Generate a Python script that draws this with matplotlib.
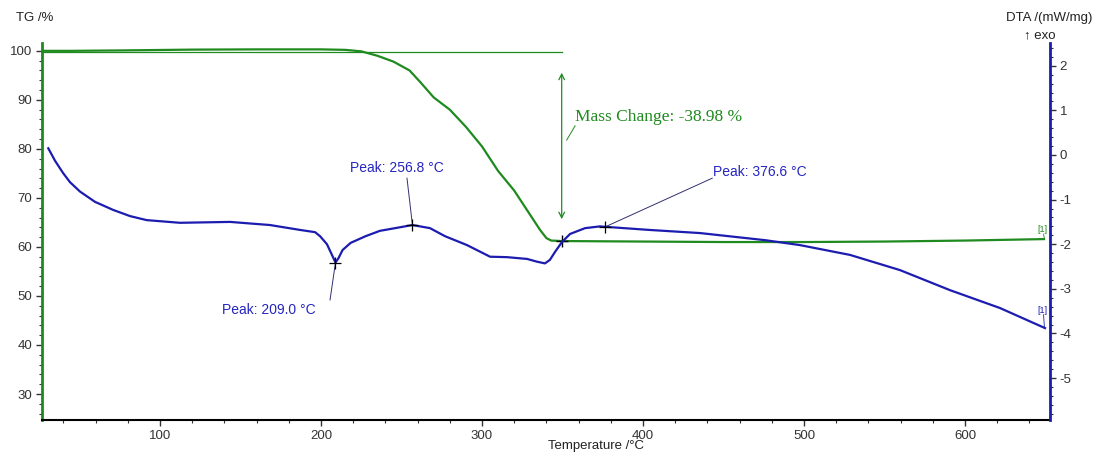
import numpy as np
import matplotlib.pyplot as plt
from matplotlib.ticker import MultipleLocator

plt.rcParams['font.family'] = ['Liberation Sans', 'DejaVu Sans']
plt.rcParams['axes.unicode_minus'] = False

# TG curve (left axis, %)
tg_temp = [27, 45, 80, 120, 160, 200, 215, 225, 235, 245, 255, 262, 270, 280, 290, 300,
           310, 320, 330, 336, 340, 343, 350, 400, 450, 500, 550, 600, 649]
tg_mass = [100.0, 100.0, 100.1, 100.25, 100.3, 100.3, 100.2, 99.9, 99.0, 97.8, 96.0, 93.5,
           90.5, 88.0, 84.5, 80.5, 75.5, 71.5, 66.5, 63.5, 61.8, 61.3, 61.2, 61.1,
           61.0, 61.0, 61.1, 61.3, 61.6]

# DTA curve (right axis, mW/mg)
dta_temp = [30.6, 34.8, 39.9, 44.1, 50.3, 59.6, 70.8, 81.4, 91.7, 112.4, 143.5, 168.3,
            187.0, 196.3, 199.4, 203.7, 206.8, 209.0, 210.9, 213.4, 218.4, 227.7, 236.6,
            246.0, 256.8, 267.7, 277.0, 290.7, 305.0, 315.5, 328.0, 334.0, 339.1, 342.2,
            345.4, 349.7, 354.7, 364.0, 373.3, 376.6, 404.0, 435.4, 476.0, 497.5, 528.6,
            559.6, 590.7, 621.7, 649.7]
dta_val = [0.15, -0.13, -0.41, -0.61, -0.82, -1.05, -1.23, -1.37, -1.46, -1.52, -1.50, -1.57,
           -1.68, -1.73, -1.82, -2.00, -2.24, -2.41, -2.31, -2.13, -1.97, -1.82, -1.70,
           -1.64, -1.57, -1.64, -1.82, -2.02, -2.28, -2.29, -2.33, -2.39, -2.43, -2.35,
           -2.17, -1.95, -1.77, -1.64, -1.60, -1.61, -1.68, -1.75, -1.91, -2.02, -2.24,
           -2.58, -3.03, -3.43, -3.88]

peak_temps = [209.0, 256.8, 376.6]
peak_vals = [-2.41, -1.57, -1.61]
peak_labels = ['Peak: 209.0 °C', 'Peak: 256.8 °C', 'Peak: 376.6 °C']
peak_text_pos = [(138.5, -3.47), (218.0, -0.29), (443.5, -0.38)]
peak_leader_end = [(205.6, -3.25), (253.4, -0.52), (443.0, -0.52)]

mass_start, mass_end, mass_temp = 99.8, 61.2, 349.5
mass_label = 'Mass Change: -38.98 %'

green = '#1f8a1f'
blue = '#1c1cb0'
text_blue = '#2525c0'

fig = plt.figure(figsize=(10.99, 4.54), dpi=100)
ax = fig.add_axes([42/1099, 1-420/454, 1008/1099, 377/454])
ax2 = ax.twinx()

ax.plot(tg_temp, tg_mass, color=green, lw=1.6, zorder=3)
ax2.plot(dta_temp, dta_val, color=blue, lw=1.6, zorder=3)

ax.set_xlim(26.7, 652.8)
ax.set_ylim(24.7, 101.6)
ax2.set_ylim(-5.94, 2.51)

# mass change annotation
ax.plot([26.7, mass_temp], [mass_start, mass_start], color=green, lw=0.9)
ax.annotate('', xy=(mass_temp, 96.1), xytext=(mass_temp, 65.1),
            arrowprops=dict(arrowstyle='<->', color=green, lw=0.9, mutation_scale=10))
ax.text(357.8, 86.6, mass_label, color=green, fontsize=12.5,
        family='Liberation Serif', va='center', ha='left')
ax.plot([357.8, 352.6], [84.7, 81.8], color=green, lw=0.7)
ax.plot([mass_temp], [mass_end], marker='+', color='black', ms=8, mew=1, zorder=4)

# peak annotations
for t, v, lab, pos, end in zip(peak_temps, peak_vals, peak_labels, peak_text_pos, peak_leader_end):
    ax2.plot([t], [v], marker='+', color='black', ms=8, mew=0.9, zorder=4)
    ax2.text(pos[0], pos[1], lab, color=text_blue, fontsize=10, va='center', ha='left')
    ax2.plot([t, end[0]], [v, end[1]], color='#303070', lw=0.7)

# end markers
ax.text(648.3, 62.6, '[1]', color=green, fontsize=6.5, ha='center', va='bottom')
ax.plot([648.8, 649.3], [62.6, 61.7], color=green, lw=0.6)
ax2.text(648.3, -3.58, '[1]', color=blue, fontsize=6.5, ha='center', va='bottom')
ax2.plot([648.8, 649.3], [-3.58, -3.85], color=blue, lw=0.6)

# axes styling
ax.spines['top'].set_visible(False)
ax2.spines['top'].set_visible(False)
ax.spines['right'].set_visible(False)
ax2.spines['left'].set_visible(False)
ax2.spines['bottom'].set_visible(False)
ax.spines['left'].set_color(green)
ax.spines['left'].set_linewidth(2)
ax2.spines['right'].set_color(blue)
ax2.spines['right'].set_linewidth(2)
ax.spines['bottom'].set_linewidth(1.5)

ax.xaxis.set_major_locator(MultipleLocator(100))
ax.xaxis.set_minor_locator(MultipleLocator(20))
ax.yaxis.set_major_locator(MultipleLocator(10))
ax.yaxis.set_minor_locator(MultipleLocator(2))
ax2.yaxis.set_major_locator(MultipleLocator(1))
ax2.yaxis.set_minor_locator(MultipleLocator(0.2))

for a in (ax, ax2):
    a.tick_params(which='major', length=4, width=1, labelsize=9.5, colors='#333333', pad=3)
    a.tick_params(which='minor', length=2.5, width=0.8, colors='#333333')

fig.text(35/1099, 1-18/454, 'TG /%', fontsize=9.5, ha='center', va='center', color='#222222')
fig.text(1092/1099, 1-18/454, 'DTA /(mW/mg)', fontsize=9.5, ha='right', va='center', color='#222222')
fig.text(1040/1099, 1-35/454, '↑ exo', fontsize=9.5, ha='center', va='center', color='#222222')
fig.text(548/1099, 1-446/454, 'Temperature /°C', fontsize=9.5, ha='left', va='center', color='#222222')

fig.savefig('out.png', dpi=100)
